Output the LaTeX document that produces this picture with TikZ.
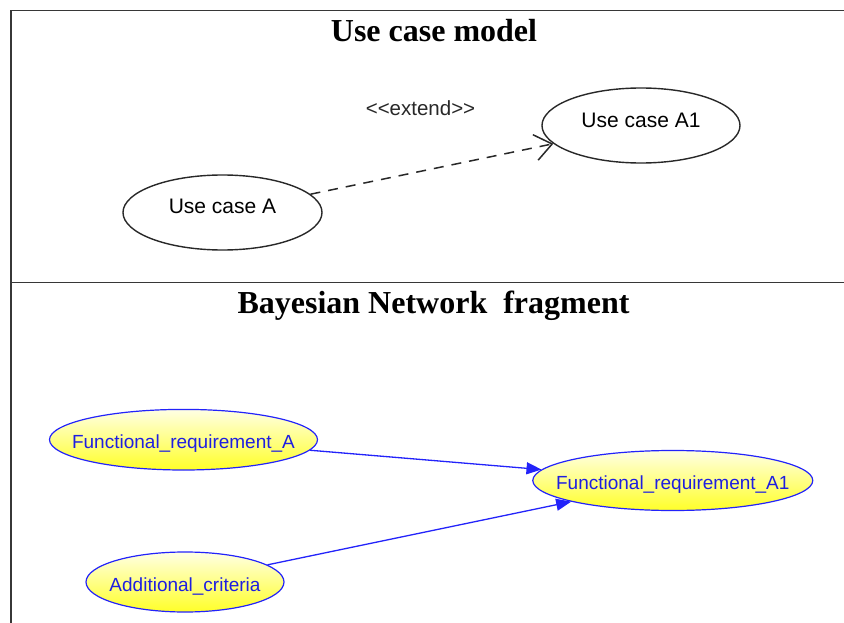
\documentclass[tikz,border=0pt]{standalone}
\usepackage{fontspec}
\setmainfont{Liberation Serif}
\newfontfamily\arialf{Liberation Sans}
\usetikzlibrary{arrows.meta,shapes.geometric}
\definecolor{framecol}{RGB}{55,55,55}
\definecolor{ucline}{RGB}{40,40,40}
\definecolor{bnline}{RGB}{35,35,250}
\definecolor{bntext}{RGB}{30,30,225}
\definecolor{yelltop}{RGB}{255,255,228}
\definecolor{yellbot}{RGB}{255,255,40}
\tikzset{
  frameline/.style={draw=framecol, line width=1.6pt},
  titlefont/.style={anchor=base, inner sep=0pt, font=\fontsize{32}{34}\selectfont\bfseries},
  usecase/.style={ellipse, draw=ucline, line width=1.4pt, fill=white, inner sep=0pt,
     text depth=0pt, font=\arialf\fontsize{21}{23}\selectfont},
  bnnode/.style={ellipse, draw=bnline, line width=1.2pt, top color=yelltop, bottom color=yellbot,
     inner sep=0pt, text height=18pt, text depth=0pt, text=bntext,
     font=\arialf\fontsize{19}{21}\selectfont},
  extendarrow/.style={draw=ucline, line width=1.5pt, dash pattern=on 10pt off 8pt,
     -{Straight Barb[length=17pt,width=26pt,line width=1.5pt]}},
  bnarrow/.style={draw=bnline, line width=1.3pt, -{Triangle[length=15pt,width=12pt]}},
}
\begin{document}
\begin{tikzpicture}[x=1pt,y=-1pt]
\useasboundingbox (0,0) rectangle (844,623);
% frame
\coordinate (fbl) at (11,623);
\coordinate (ftl) at (11,10.7);
\coordinate (ftr) at (844,10.7);
\coordinate (dl) at (11,282.5);
\coordinate (dr) at (844,282.5);
\draw[frameline] (fbl) -- (ftl) -- (ftr);
\draw[frameline] (dl) -- (dr);
% titles
\node[titlefont] (t1) at (434,41.5) {Use case model};
\node[titlefont] (t2) at (433.5,313.3) {Bayesian Network\ \ fragment};
% use case model
\node[usecase, minimum width=199pt, minimum height=75pt, text height=2pt] (ucA) at (222.5,212.5) {\makebox[0pt]{Use case A}};
\node[usecase, minimum width=198pt, minimum height=75pt, text height=5pt] (ucA1) at (641,125.5) {\makebox[0pt]{Use case A1}};
\draw[extendarrow] (ucA) -- (ucA1);
\node[anchor=base, inner sep=0pt, font=\arialf\fontsize{20.5}{22}\selectfont, text=ucline] (ext) at (420.5,116) {<<extend>>};
% bayesian network
\node[bnnode, minimum width=268pt, minimum height=60.6pt] (frA) at (183.5,439.7) {\makebox[0pt]{Functional\_requirement\_A}};
\node[bnnode, minimum width=280pt, minimum height=60pt] (frA1) at (672.8,480.5) {\makebox[0pt]{Functional\_requirement\_A1}};
\node[bnnode, minimum width=198pt, minimum height=60pt] (addc) at (185,582) {\makebox[0pt]{Additional\_criteria}};
\draw[bnarrow] (frA) -- (frA1);
\draw[bnarrow] (addc) -- (frA1);
\end{tikzpicture}
\end{document}
